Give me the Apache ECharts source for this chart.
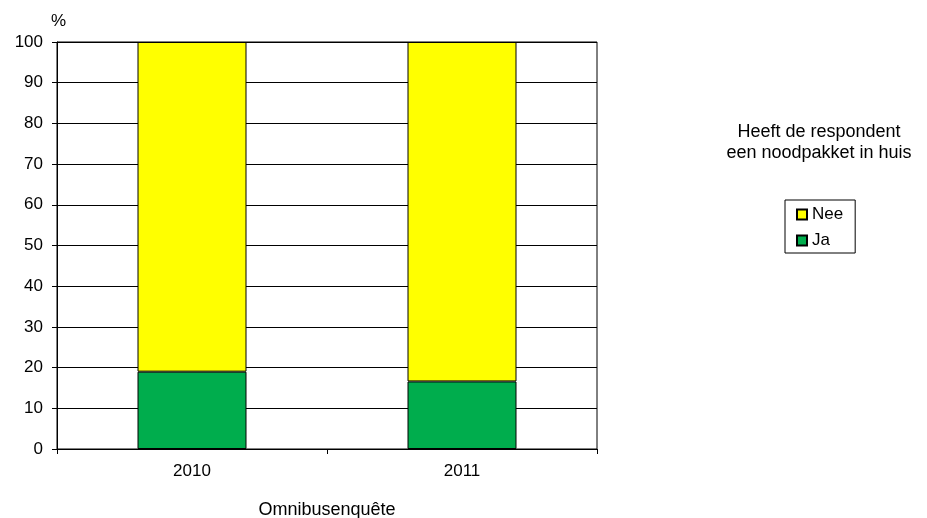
<!DOCTYPE html>
<html>
<head>
<meta charset="utf-8">
<script src="https://cdn.jsdelivr.net/npm/echarts@6/dist/echarts.min.js"></script>
<style>html,body{margin:0;padding:0;background:#fff}#c{width:927px;height:518px}</style>
</head>
<body>
<div id="c"></div>
<script>
const categories = ['2010', '2011'];
const jaValues = [19.0, 16.6];
const neeValues = [81.0, 83.4];
const yTicks = [0, 10, 20, 30, 40, 50, 60, 70, 80, 90, 100];
const legendTitle = ['Heeft de respondent', 'een noodpakket in huis'];

const font = 'Liberation Sans, Arial, sans-serif';
const chart = echarts.init(document.getElementById('c'));
chart.setOption({
  animation: false,
  backgroundColor: '#fff',
  textStyle: { fontFamily: font },
  grid: { left: 57, right: 330, top: 42, bottom: 69, show: true, borderColor: '#000', borderWidth: 1,
          containLabel: false, outerBoundsMode: 'none' },
  graphic: [{
    type: 'text', left: 719, top: 122,
    style: { text: legendTitle.join('\n'), width: 200, align: 'center', fontSize: 18, lineHeight: 21, fill: '#000', fontFamily: font, x: 107, textAlign: 'center' }
  }],
  legend: {
    orient: 'vertical', left: 785, top: 200,
    data: ['Nee', 'Ja'],
    backgroundColor: '#fff', borderColor: '#000', borderWidth: 1,
    padding: [6, 12, 4, 11],
    itemWidth: 10, itemHeight: 10, itemGap: 9,
    icon: 'rect',
    textStyle: { fontSize: 17, color: '#000', fontFamily: font, padding: [0, 0, 0, 0], lineHeight: 17 }
  },
  xAxis: {
    type: 'category', data: categories,
    name: 'Omnibusenquête', nameLocation: 'middle', nameGap: 52,
    nameTextStyle: { fontSize: 18, color: '#000', fontFamily: font },
    axisLine: { lineStyle: { color: '#000', width: 1 } },
    axisTick: { show: true, length: 5, lineStyle: { color: '#000' } },
    axisLabel: { fontSize: 17, color: '#000', margin: 14, fontFamily: font }
  },
  yAxis: {
    type: 'value', min: 0, max: 100, interval: 10,
    name: '%', nameLocation: 'end', nameGap: 12,
    nameTextStyle: { fontSize: 17, color: '#000', align: 'left', padding: [0, 0, 0, -6], fontFamily: font },
    axisLine: { show: true, lineStyle: { color: '#000' } },
    axisTick: { show: true, length: 5, lineStyle: { color: '#000' } },
    axisLabel: { fontSize: 17, color: '#000', margin: 14, fontFamily: font,
      formatter: v => yTicks.includes(v) ? String(v) : '' },
    splitLine: { show: true, lineStyle: { color: '#000', width: 1 } }
  },
  series: [
    { name: 'Ja', type: 'bar', stack: 's', data: jaValues, barWidth: 109,
      itemStyle: { color: '#00AD4D', borderColor: '#000', borderWidth: 1 } },
    { name: 'Nee', type: 'bar', stack: 's', data: neeValues, barWidth: 109,
      itemStyle: { color: '#FFFF00', borderColor: '#000', borderWidth: 1 } }
  ]
});
</script>
</body>
</html>
